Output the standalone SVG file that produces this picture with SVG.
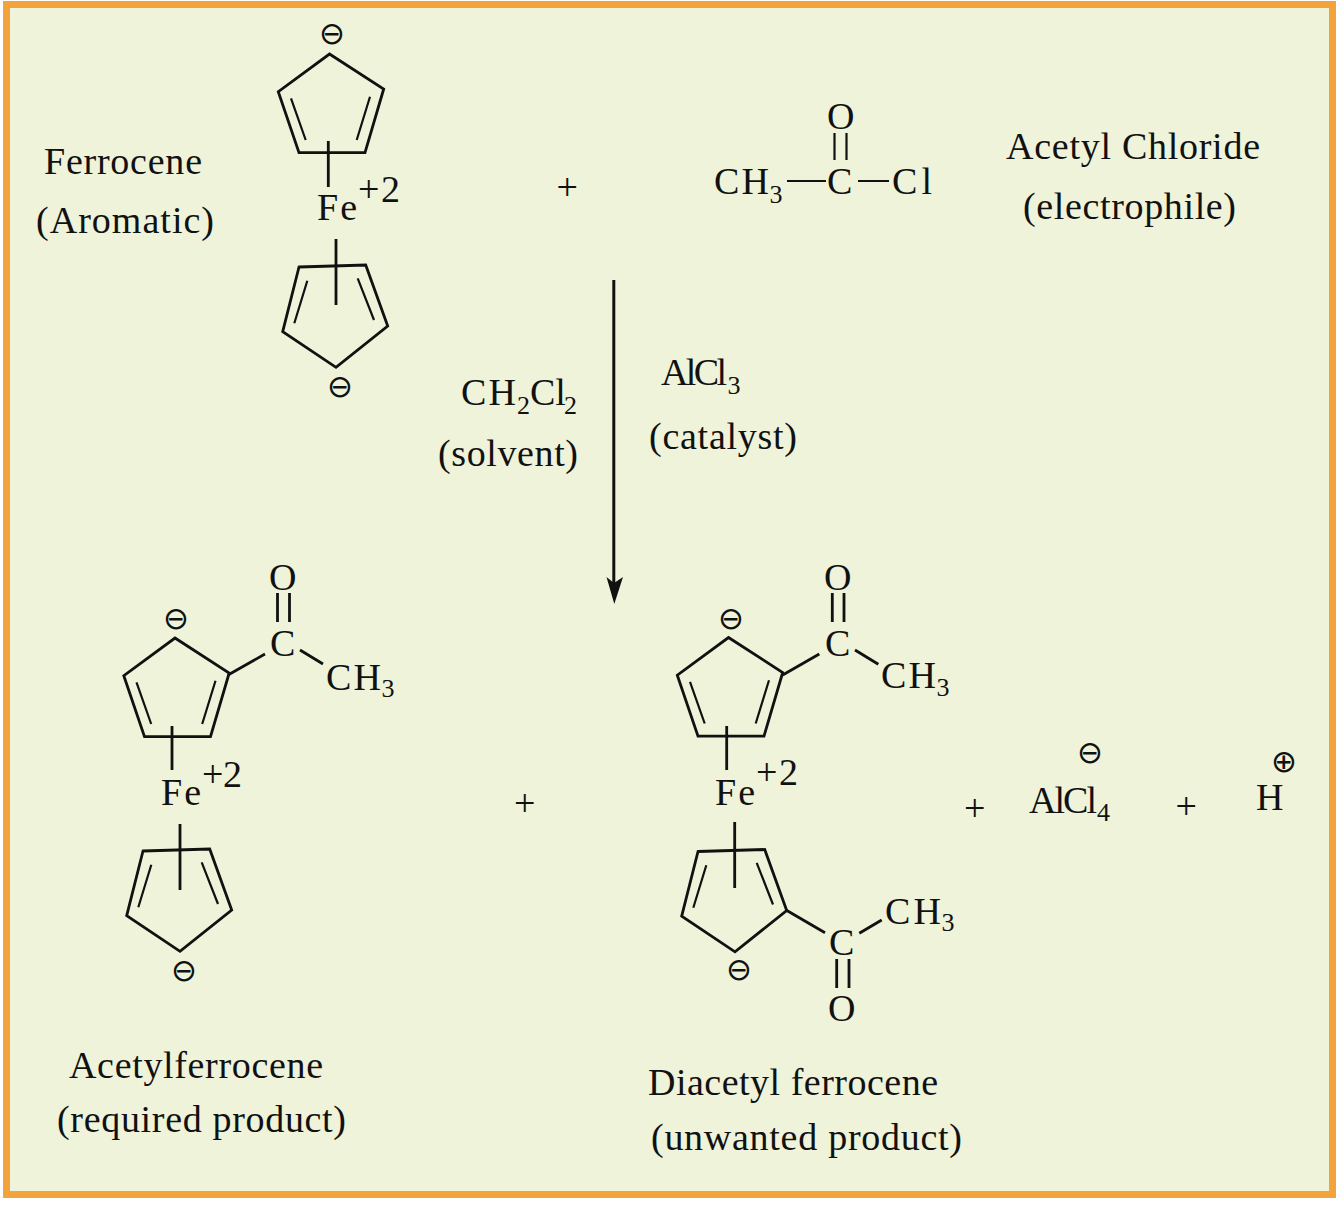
<svg xmlns="http://www.w3.org/2000/svg" width="1337" height="1217" viewBox="0 0 1337 1217">
<style>
text{font-family:"Liberation Serif","Times New Roman",serif;font-size:38px;fill:#111;}
.s{font-size:26px;}
.c{font-family:"DejaVu Sans",sans-serif;font-size:31px;text-anchor:middle;}
.b{fill:none;stroke:#111;stroke-width:2.8;stroke-linecap:butt;stroke-linejoin:miter;}
.t{stroke-width:2.2;}
.h{fill:#111;}
</style>
<defs>
<g id="ringUp"><path class="b" d="M329.5 54L383.7 89L365 152.7L299 152.7L278.3 91.7Z"/><path class="b t" d="M291 98.3L305.7 140M370 96.7L356.7 140"/></g>
<g id="ringDown"><path class="b" d="M299 267L365.7 265L387.7 326L336 367.3L282.7 331.7Z"/><path class="b t" d="M307.3 280.7L294.3 323.3M357.7 278.3L374 320"/></g>
</defs>
<rect x="6.5" y="4.5" width="1326" height="1190" fill="#eef3da" stroke="#f2a33c" stroke-width="7"/>

<g id="ferrocene-label"><text x="44" y="174" textLength="158">Ferrocene</text><text x="36" y="233" textLength="178">(Aromatic)</text></g>
<g id="ferrocene">
<use href="#ringUp"/><use href="#ringDown"/>
<path class="b" d="M328.3 141V187M336 239V305"/>
<text class="c" x="332" y="44">⊖</text>
<text x="317" y="220" textLength="40">Fe</text>
<text x="358" y="202" textLength="42">+2</text>
<text class="c" x="340" y="397">⊖</text>
</g>
<g id="plus-1"><text x="556.500" y="199.500">+</text></g>
<g id="acetyl-chloride">
<text x="827" y="129" textLength="28">O</text>
<path class="b t" d="M834.500 133V160M846.500 133V160M787 181H826M858 181H889"/>
<text x="827" y="194" textLength="26">C</text>
<text x="714" y="194" textLength="55">CH</text><text class="s" x="769.500" y="203">3</text>
<text x="892" y="194" textLength="40">Cl</text>
</g>
<g id="acetyl-chloride-label"><text x="1006" y="159" textLength="254">Acetyl Chloride</text><text x="1023" y="219" textLength="213">(electrophile)</text></g>

<g id="solvent"><text x="461" y="405" textLength="55">CH</text><text class="s" x="517" y="414">2</text><text x="530" y="405">Cl</text><text class="s" x="564" y="414">2</text><text x="438" y="466" textLength="140">(solvent)</text></g>
<g id="catalyst"><text x="661" y="385" textLength="66">AlCl</text><text class="s" x="727.500" y="394">3</text><text x="649" y="449" textLength="148">(catalyst)</text></g>

<g id="connectors"><path class="b" d="M613.800 280V590" style="stroke-width:3"/><path class="h" d="M606.500 577L614 583L623 577L614.300 604Z"/></g>

<g id="acetylferrocene">
<use href="#ringUp" transform="translate(-154.500 584)"/><use href="#ringDown" transform="translate(-156 584)"/>
<path class="b" d="M172 726V770M180 824V890M228 675L265 654M300 650L323 664M277.500 593V622M289.500 593V622"/>
<text class="c" x="176" y="629">⊖</text>
<text x="269" y="590" textLength="28">O</text>
<text x="270" y="656" textLength="26">C</text>
<text x="326" y="690" textLength="55">CH</text><text class="s" x="381.500" y="697">3</text>
<text x="161" y="805" textLength="40">Fe</text>
<text x="202" y="787" textLength="40">+2</text>
<text class="c" x="184" y="981">⊖</text>
</g>
<g id="acetylferrocene-label"><text x="69" y="1078" textLength="254">Acetylferrocene</text><text x="57" y="1132" textLength="289">(required product)</text></g>
<g id="plus-2"><text x="514" y="816">+</text></g>

<g id="diacetylferrocene">
<use href="#ringUp" transform="translate(399 583.500)"/><use href="#ringDown" transform="translate(399 584.500)"/>
<path class="b" d="M726.700 726V770M734.700 822V888M782.700 675L819.300 654M855 650L878.300 664.300M832.300 593V622M844 593V622M786 910L825 932.700M859.300 933.300L881.700 920M836.700 959V988M849 959V988"/>
<text class="c" x="731" y="629">⊖</text>
<text x="824" y="590" textLength="28">O</text>
<text x="825" y="656" textLength="26">C</text>
<text x="881" y="688" textLength="55">CH</text><text class="s" x="936.500" y="696">3</text>
<text x="715" y="805" textLength="40">Fe</text>
<text x="756" y="785" textLength="42">+2</text>
<text class="c" x="739" y="980">⊖</text>
<text x="885" y="924" textLength="56">CH</text><text class="s" x="941.500" y="931">3</text>
<text x="829" y="955" textLength="26">C</text>
<text x="828" y="1021" textLength="28">O</text>
</g>
<g id="diacetylferrocene-label"><text x="648" y="1095" textLength="290">Diacetyl ferrocene</text><text x="651" y="1150" textLength="311">(unwanted product)</text></g>
<g id="plus-3"><text x="964" y="821">+</text></g>
<g id="aluminate"><text class="c" x="1090" y="763">⊖</text><text x="1029" y="813" textLength="68">AlCl</text><text class="s" x="1097" y="821">4</text></g>
<g id="plus-4"><text x="1175.500" y="818.500">+</text></g>
<g id="proton"><text class="c" x="1284" y="772">⊕</text><text x="1256" y="810" textLength="28">H</text></g>
</svg>
